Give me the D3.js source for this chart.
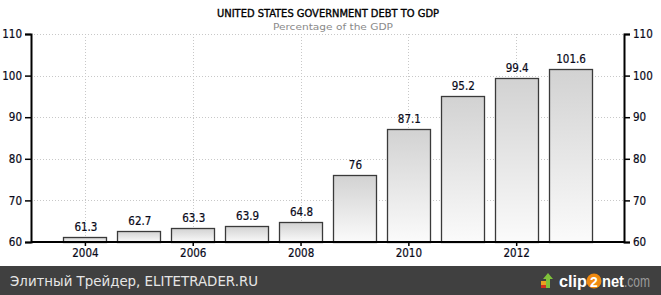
<!DOCTYPE html>
<html><head><meta charset="utf-8">
<script src="https://cdn.jsdelivr.net/npm/d3@7"></script>
<style>
html,body{margin:0;padding:0;background:#fff;}
svg{display:block;}
</style></head>
<body>
<svg id="chart" width="661" height="295"></svg>
<script>
const years = [2004, 2005, 2006, 2007, 2008, 2009, 2010, 2011, 2012, 2013];
const values = [61.3, 62.7, 63.3, 63.9, 64.8, 76, 87.1, 95.2, 99.4, 101.6];
const yTicks = [60, 70, 80, 90, 100, 110];
const xTicks = [2004, 2006, 2008, 2010, 2012];
const title = "UNITED STATES GOVERNMENT DEBT TO GDP";
const subtitle = "Percentage of the GDP";
const footerText = "Элитный Трейдер, ELITETRADER.RU";

(function () {
const W = 661, H = 295;
const pL = 31, pR = 624, pT = 34, pB = 242;
const font = "'DejaVu Sans Condensed', 'DejaVu Sans', sans-serif";

const svg = d3.select("#chart");
const x = d3.scaleLinear().domain([2003, 2014]).range([pL, pR]);
const y = d3.scaleLinear().domain([60, 110]).range([pB, pT]);
const barW = (x(2005) - x(2004)) * 0.8;

const defs = svg.append("defs");
const grad = defs.append("linearGradient").attr("id", "barGrad")
  .attr("x1", 0).attr("y1", 0).attr("x2", 0).attr("y2", 1);
grad.append("stop").attr("offset", "0%").attr("stop-color", "#d2d2d2");
grad.append("stop").attr("offset", "100%").attr("stop-color", "#fbfbfb");

// titles
svg.append("text").attr("x", 328).attr("y", 16.5).attr("text-anchor", "middle")
  .attr("font-family", font).attr("font-size", 11).attr("fill", "#000")
  .attr("stroke", "#000").attr("stroke-width", 0.35)
  .attr("textLength", 222).attr("lengthAdjust", "spacingAndGlyphs")
  .text(title);
svg.append("text").attr("x", 333).attr("y", 29.5).attr("text-anchor", "middle")
  .attr("font-family", font).attr("font-size", 9).attr("fill", "#8a8a8a")
  .attr("textLength", 120).attr("lengthAdjust", "spacingAndGlyphs")
  .text(subtitle);

// grid
const grid = svg.append("g");
grid.selectAll("line.h").data(yTicks.filter(d => d > 60)).join("line")
  .attr("x1", pL).attr("x2", pR).attr("y1", d => Math.round(y(d)) + 0.5).attr("y2", d => Math.round(y(d)) + 0.5)
  .attr("stroke", "#c8c8c8").attr("stroke-dasharray", "1,2").attr("stroke-width", 1);
grid.selectAll("line.v").data(xTicks).join("line")
  .attr("x1", d => Math.round(x(d)) + 0.5).attr("x2", d => Math.round(x(d)) + 0.5)
  .attr("y1", pT).attr("y2", pB)
  .attr("stroke", "#c8c8c8").attr("stroke-dasharray", "1,2").attr("stroke-width", 1);

// bars
svg.append("g").selectAll("rect").data(years).join("rect")
  .attr("x", (d) => Math.round(x(d) - barW / 2) + 0.5)
  .attr("y", (d, i) => Math.round(y(values[i])) + 0.5)
  .attr("width", Math.round(barW))
  .attr("height", (d, i) => pB - Math.round(y(values[i])))
  .attr("fill", "url(#barGrad)").attr("stroke", "#3a3a3a").attr("stroke-width", 1.3);

// value labels
svg.append("g").selectAll("text").data(years).join("text")
  .attr("x", d => x(d) + 1).attr("y", (d, i) => y(values[i]) - 6)
  .attr("text-anchor", "middle").attr("font-family", font).attr("font-size", 11.5)
  .attr("fill", "#0a0a1a").attr("stroke", "#0a0a1a").attr("stroke-width", 0.2)
  .text((d, i) => values[i]);

// axes
const axL = svg.append("g").attr("transform", `translate(${pL},0)`)
  .call(d3.axisLeft(y).tickValues(yTicks).tickSize(6).tickPadding(3));
const axR = svg.append("g").attr("transform", `translate(${pR},0)`)
  .call(d3.axisRight(y).tickValues(yTicks).tickSize(6).tickPadding(3));
const axB = svg.append("g").attr("transform", `translate(0,${pB})`)
  .call(d3.axisBottom(x).tickValues(xTicks).tickFormat(d3.format("d")).tickSize(4).tickPadding(3).tickSizeOuter(0));
[axL, axR, axB].forEach(a => {
  a.select(".domain").attr("stroke", "#000").attr("stroke-width", 2);
  a.selectAll(".tick line").attr("stroke", "#000").attr("stroke-width", 1.5);
  a.selectAll("text").attr("font-family", font).attr("font-size", 11.5)
    .attr("fill", "#0a0a1a").attr("stroke", "#0a0a1a").attr("stroke-width", 0.2);
});
axB.select(".domain").attr("d", `M${pL},0H${pR}`);

// footer
svg.append("rect").attr("x", 0).attr("y", 266).attr("width", W).attr("height", H - 266).attr("fill", "#404040");
svg.append("text").attr("x", 10).attr("y", 286).attr("font-family", "'DejaVu Sans', sans-serif").attr("font-size", 14)
  .attr("fill", "#e6e6e6").attr("textLength", 248).attr("lengthAdjust", "spacingAndGlyphs")
  .text(footerText);

// clip2net logo
const logo = svg.append("g");
logo.append("rect").attr("x", 541).attr("y", 281).attr("width", 8).attr("height", 4).attr("fill", "#e8a020");
logo.append("rect").attr("x", 541).attr("y", 285).attr("width", 8).attr("height", 3).attr("fill", "#d03020");
logo.append("path").attr("d", "M546,288 V279 H543 L548,273 L553,279 H550 V288 Z").attr("fill", "#7fc23a");
logo.append("text").attr("x", 559).attr("y", 287).attr("font-family", "Arial, 'Liberation Sans', sans-serif")
  .attr("font-size", 16).attr("font-weight", "bold").attr("fill", "#fff")
  .attr("textLength", 28).attr("lengthAdjust", "spacingAndGlyphs").text("clip");
logo.append("circle").attr("cx", 594).attr("cy", 281).attr("r", 7.5).attr("fill", "#f08a10");
logo.append("text").attr("x", 594).attr("y", 286.5).attr("text-anchor", "middle")
  .attr("font-family", "Arial, 'Liberation Sans', sans-serif").attr("font-size", 14).attr("font-weight", "bold").attr("fill", "#fff").text("2");
logo.append("text").attr("x", 602).attr("y", 287).attr("font-family", "Arial, 'Liberation Sans', sans-serif")
  .attr("font-size", 16).attr("fill", "#fff").attr("font-weight", "bold")
  .attr("textLength", 22).attr("lengthAdjust", "spacingAndGlyphs").text("net");
logo.append("text").attr("x", 624).attr("y", 287).attr("font-family", "Arial, 'Liberation Sans', sans-serif")
  .attr("font-size", 16).attr("fill", "#9a9a9a")
  .attr("textLength", 26).attr("lengthAdjust", "spacingAndGlyphs").text(".com");
})();
</script>
</body></html>
